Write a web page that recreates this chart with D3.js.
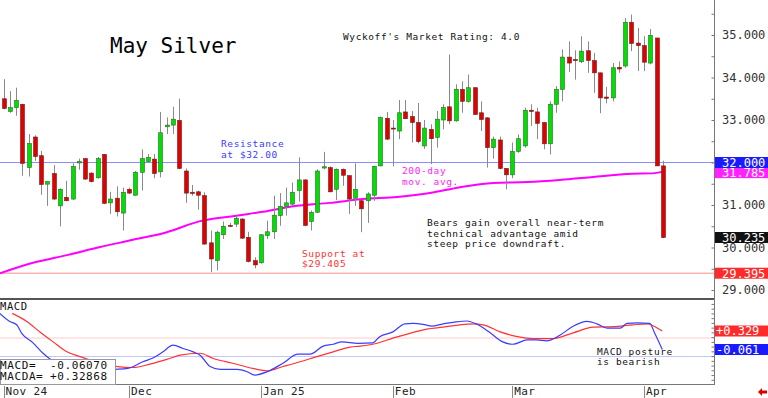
<!DOCTYPE html>
<html>
<head>
<meta charset="utf-8">
<script src="https://cdn.jsdelivr.net/npm/d3@7"></script>
<style>
  body { margin: 0; background: #fff; }
  svg { display: block; }
  text { font-family: "DejaVu Sans Mono", "Liberation Mono", monospace; }
</style>
</head>
<body>
<div id="chart"></div>
<script>
// daily candles, Nov 1 2024 .. Apr 4 2025 (trading day index = position)
const opens = [33.50,33.20,33.29,33.37,31.88,32.60,32.16,31.49,31.74,30.98,31.18,31.14,31.99,32.09,31.75,31.64,32.19,31.05,31.16,30.81,
  31.37,31.23,31.77,32.02,32.08,31.78,32.84,32.88,32.99,31.80,31.30,31.31,31.22,30.11,29.69,30.30,30.52,30.55,30.67,30.24,29.69,
  29.64,30.28,30.37,30.75,30.97,31.02,31.34,31.59,30.61,30.83,31.87,31.88,31.37,31.84,31.69,31.16,31.10,31.10,31.23,31.92,33.04,
  32.81,32.74,33.19,33.08,32.94,32.39,32.78,32.59,33.00,33.31,32.98,33.72,33.44,33.76,33.17,33.05,32.35,32.53,31.86,
  31.71,32.26,32.39,33.23,33.19,32.94,32.44,33.37,33.72,34.48,34.42,34.37,34.63,34.40,34.11,33.54,33.52,34.24,34.27,35.30,34.81,
  34.75,34.34,34.93,31.92];
const highs = [33.96,33.68,33.76,33.38,32.67,32.64,32.27,31.56,31.94,31.39,31.57,31.98,32.09,32.11,31.77,32.13,32.20,31.31,31.44,31.41,
  31.41,31.80,32.31,32.20,32.20,33.19,33.06,33.31,33.50,31.86,31.47,31.34,31.30,30.40,30.40,30.61,30.58,30.75,30.69,30.37,29.77,
  30.31,30.63,31.22,31.28,31.41,31.53,32.12,31.61,30.87,31.84,32.25,31.91,31.86,31.86,31.70,31.98,31.12,31.30,31.92,33.08,33.19,
  33.00,33.47,33.47,33.21,33.40,33.00,32.90,33.21,33.37,34.54,33.84,33.91,34.07,33.77,33.44,33.07,32.61,32.61,31.87,
  32.47,32.66,33.29,33.37,33.29,32.95,33.44,33.80,34.66,34.85,34.64,34.97,34.85,34.58,34.11,33.78,34.34,34.38,35.40,35.48,35.17,
  34.97,35.14,34.93,32.04];
const lows = [33.25,33.17,33.10,31.69,31.67,32.04,31.24,30.98,31.12,30.50,31.09,31.12,31.83,31.59,31.53,31.62,31.02,30.79,30.73,30.40,
  31.26,31.22,31.34,32.00,31.63,31.65,32.67,32.67,31.84,31.05,31.22,30.89,30.07,29.42,29.46,30.20,30.48,30.48,30.20,29.65,29.51,
  29.62,30.20,30.20,30.51,30.75,30.98,31.08,30.50,30.40,30.81,31.84,31.30,31.12,31.45,30.79,30.98,30.36,30.58,31.10,31.91,32.53,
  31.91,32.55,33.02,32.47,32.45,32.32,31.96,32.35,32.78,32.90,32.96,33.17,33.41,33.12,32.74,31.88,32.09,31.84,31.37,
  31.63,32.23,32.35,32.86,32.55,32.31,32.19,33.17,33.44,34.13,33.95,34.34,34.11,33.64,33.16,33.39,33.44,34.11,34.23,34.62,34.15,
  34.15,34.31,31.92,30.22];
const closes = [33.27,33.29,33.46,31.98,32.45,32.14,31.48,31.55,31.14,31.37,31.10,31.91,32.02,31.61,31.55,32.09,31.04,31.14,30.84,31.30,
  31.28,31.77,32.09,32.12,31.74,32.70,32.88,33.02,31.86,31.28,31.27,31.23,30.08,29.73,30.36,30.50,30.51,30.69,30.22,29.67,29.59,
  30.30,30.37,30.76,30.97,31.05,31.30,31.59,30.52,30.83,31.80,31.90,31.31,31.84,31.70,31.14,31.37,30.91,31.26,31.91,33.06,32.55,
  32.79,33.17,33.03,32.94,32.49,32.81,32.56,33.02,33.29,32.98,33.72,33.44,33.76,33.13,33.01,32.35,32.55,31.86,31.71,
  32.26,32.56,33.23,33.20,32.92,32.44,33.37,33.72,34.48,34.34,34.40,34.62,34.40,34.11,33.52,33.51,34.23,34.20,35.30,34.80,34.75,
  34.36,34.99,31.92,30.235];

// 200-day moving average, read at trading-day positions
const maIdx = [-0.6,4.7,10.1,15.4,20.6,26,31.3,37.7,41.3,46.7,52,57.2,62.7,67.9,72.7,78,83.4,88.6,93.9,99.3,103.7,105];
const maVals = [29.39,29.64,29.82,30.01,30.18,30.36,30.62,30.76,30.84,30.98,31.05,31.14,31.19,31.28,31.42,31.52,31.54,31.59,31.66,31.73,31.75,31.785];

// MACD (blue) and MACDA signal (red)
const macdIdx = [-0.6,1.0,2.1,2.9,4.7,6.3,7.4,10.6,13.8,16.2,17.8,19.8,22.2,23.8,25.4,27,28.6,30.2,31.3,32.9,34.5,37.2,38.8,40,42,44.5,46.9,48.8,50.9,52.5,
  53.9,56.4,58.8,59.9,62,63.9,65.2,66.8,68.2,70,71.6,73.8,75.4,77.5,79.5,81.1,83.4,84.9,86.5,88.6,90.7,92.9,94.5,96.1,98.2,99.3,100.9,102.9,103.7,104.9];
const macdVals = [0.70,0.53,0.46,0.28,0.08,-0.14,-0.26,-0.45,-0.54,-0.49,-0.48,-0.46,-0.32,-0.24,-0.11,0.03,-0.04,-0.11,-0.18,-0.42,-0.48,-0.48,-0.53,-0.60,-0.53,-0.35,-0.16,-0.16,0.01,0.05,
  0.10,0.07,0.08,0.21,0.31,0.48,0.49,0.47,0.43,0.48,0.51,0.54,0.47,0.29,0.10,0.05,0.14,0.14,0.12,0.24,0.43,0.53,0.48,0.39,0.39,0.49,0.50,0.49,0.28,-0.061];
const sigIdx = [1.4,3.7,5.8,7.9,10.1,12.2,14.3,16.5,18.1,20.6,23.3,26,28.1,31.3,33.4,36.5,39.7,42,44.5,47.2,49.9,52.5,55.2,56.8,59.5,62,64.7,67.4,70,72.7,
  74.8,76.4,79.1,81.8,84.3,87.5,90.7,93.9,97.1,100.2,102.6,103.4,104.9];
const sigVals = [0.70,0.53,0.31,0.10,-0.11,-0.21,-0.30,-0.39,-0.42,-0.44,-0.37,-0.27,-0.18,-0.14,-0.25,-0.35,-0.46,-0.51,-0.42,-0.32,-0.21,-0.11,-0.01,0.01,0.07,0.18,0.28,0.37,0.41,0.46,
  0.48,0.46,0.31,0.21,0.17,0.17,0.29,0.41,0.42,0.46,0.48,0.44,0.329];

const monthLabels = ["Nov 24", "Dec", "Jan 25", "Feb", "Mar", "Apr"];
const monthIdx = [0, 20, 41, 62, 81, 102];
const priceTicks = [29, 30, 31, 33, 34, 35];
const resistance = 32.00;
const support = 29.395;
const lastClose = 30.235;
const lastMa = 31.785;
const lastMacd = -0.061;
const lastMacda = 0.329;

const width = 768;
const height = 398;
const axisX = 714;

const svg = d3.select("#chart")
  .append("svg")
  .attr("width", width)
  .attr("height", height)
  .style("background", "#fff");

const x = d3.scaleLinear().domain([0, 105]).range([3.5, 662.9]);
const y = d3.scaleLinear().domain([29, 35]).range([290, 35]);
const ym = d3.scaleLinear().domain([-0.061, 0.329]).range([349.5, 331]);

// horizontal levels
svg.append("line")
  .attr("x1", 0).attr("x2", axisX)
  .attr("y1", y(resistance)).attr("y2", y(resistance))
  .attr("stroke", "#8c8cff").attr("stroke-width", 1);
svg.append("line")
  .attr("x1", 0).attr("x2", axisX)
  .attr("y1", y(support)).attr("y2", y(support))
  .attr("stroke", "#ff8c8c").attr("stroke-width", 1);

// moving average
const maLine = d3.line()
  .x((d, i) => x(maIdx[i]))
  .y(d => y(d))
  .curve(d3.curveMonotoneX);
svg.append("path")
  .datum(maVals)
  .attr("d", maLine)
  .attr("fill", "none")
  .attr("stroke", "#ff00ff")
  .attr("stroke-width", 2);

// candles
const candles = svg.append("g");
candles.selectAll(".wick")
  .data(opens)
  .enter()
  .append("line")
  .attr("class", "wick")
  .attr("x1", (d, i) => Math.round(x(i)) + 0.5)
  .attr("x2", (d, i) => Math.round(x(i)) + 0.5)
  .attr("y1", (d, i) => y(highs[i]))
  .attr("y2", (d, i) => y(lows[i]))
  .attr("stroke", "#8a8a8a")
  .attr("stroke-width", 1);

candles.selectAll(".body")
  .data(opens)
  .enter()
  .append("rect")
  .attr("class", "body")
  .attr("x", (d, i) => Math.round(x(i)) - 1.5)
  .attr("width", 4)
  .attr("y", (d, i) => y(Math.max(d, closes[i])))
  .attr("height", (d, i) => Math.max(1, Math.abs(y(d) - y(closes[i]))))
  .attr("fill", (d, i) => closes[i] >= d ? "#00e000" : "#e00000")
  .attr("stroke", (d, i) => closes[i] >= d ? "#2a6a2a" : "#6a2020")
  .attr("stroke-width", 0.6);

// MACD panel
svg.append("line")
  .attr("x1", 0).attr("x2", axisX)
  .attr("y1", ym(lastMacda) + 7).attr("y2", ym(lastMacda) + 7)
  .attr("stroke", "#ffcaca").attr("stroke-width", 1);
svg.append("line")
  .attr("x1", 0).attr("x2", axisX)
  .attr("y1", ym(lastMacd) + 7).attr("y2", ym(lastMacd) + 7)
  .attr("stroke", "#c4c4ff").attr("stroke-width", 1);

svg.append("path")
  .datum(sigVals)
  .attr("d", d3.line().x((d, i) => x(sigIdx[i])).y(d => ym(d)).curve(d3.curveMonotoneX))
  .attr("fill", "none")
  .attr("stroke", "#ff3333")
  .attr("stroke-width", 1.2);
svg.append("path")
  .datum(macdVals)
  .attr("d", d3.line().x((d, i) => x(macdIdx[i])).y(d => ym(d)).curve(d3.curveMonotoneX))
  .attr("fill", "none")
  .attr("stroke", "#3c3cff")
  .attr("stroke-width", 1.2);

// frame lines
svg.append("line")
  .attr("x1", 0).attr("x2", axisX)
  .attr("y1", 299).attr("y2", 299)
  .attr("stroke", "#555").attr("stroke-width", 2);
svg.append("line")
  .attr("x1", 0).attr("x2", axisX)
  .attr("y1", 384.5).attr("y2", 384.5)
  .attr("stroke", "#777").attr("stroke-width", 1);
svg.append("line")
  .attr("x1", axisX + 0.5).attr("x2", axisX + 0.5)
  .attr("y1", 0).attr("y2", 385)
  .attr("stroke", "#777").attr("stroke-width", 1);

// right axis ticks and labels
const priceAxis = d3.axisRight(y)
  .tickValues(d3.range(29, 35.51, 0.5))
  .tickSize(-3)
  .tickFormat("");
svg.append("g")
  .attr("transform", `translate(${axisX + 0.5},0)`)
  .call(priceAxis)
  .call(g => g.select(".domain").remove())
  .call(g => g.selectAll("line").attr("stroke", "#777"));

const macdAxis = d3.axisRight(ym)
  .tickValues(d3.range(-0.7, 1.05, 0.1))
  .tickSize(-3)
  .tickFormat("");
svg.append("g")
  .attr("transform", `translate(${axisX + 0.5},0)`)
  .call(macdAxis)
  .call(g => g.select(".domain").remove())
  .call(g => g.selectAll(".tick").filter(d => ym(d) < 302 || ym(d) > 383).remove())
  .call(g => g.selectAll("line").attr("stroke", "#777"));

svg.selectAll(".plabel")
  .data(priceTicks)
  .enter()
  .append("text")
  .attr("class", "plabel")
  .attr("x", 722)
  .attr("y", d => y(d))
  .attr("dy", "0.36em")
  .attr("font-size", "12px")
  .attr("fill", "#333")
  .text(d => d3.format(".3f")(d));

// value boxes on the axis
const boxes = [
  { v: y(lastMa) + 1, t: d3.format(".3f")(lastMa), c: "#ff22ff" },
  { v: y(resistance), t: d3.format(".3f")(resistance), c: "#1a1aff" },
  { v: y(lastClose), t: d3.format(".3f")(lastClose), c: "#111" },
  { v: y(support), t: d3.format(".3f")(support), c: "#ff2a2a" },
  { v: ym(lastMacda), t: d3.format("+.3f")(lastMacda), c: "#ff2a2a" },
  { v: ym(lastMacd), t: d3.format("+.3f")(lastMacd).replace("−", "-"), c: "#1a1aff" }
];
const bx = svg.append("g").selectAll("g")
  .data(boxes)
  .enter()
  .append("g");
bx.append("rect")
  .attr("x", axisX + 1)
  .attr("y", d => d.v - 5.5)
  .attr("width", 53)
  .attr("height", 11)
  .attr("fill", d => d.c);
bx.append("text")
  .attr("x", d => d.t[0] === "+" || d.t[0] === "-" ? 716 : 722)
  .attr("y", d => d.v)
  .attr("dy", "0.36em")
  .attr("font-size", "12px")
  .attr("fill", "#fff")
  .text(d => d.t);

// month axis
svg.selectAll(".mtick")
  .data(monthIdx)
  .enter()
  .append("line")
  .attr("class", "mtick")
  .attr("x1", d => Math.round(x(d)) + 0.5)
  .attr("x2", d => Math.round(x(d)) + 0.5)
  .attr("y1", 386)
  .attr("y2", 398)
  .attr("stroke", "#888");
svg.selectAll(".mlabel")
  .data(monthIdx)
  .enter()
  .append("text")
  .attr("class", "mlabel")
  .attr("x", d => x(d) + 2)
  .attr("y", 395)
  .attr("font-size", "11px")
  .attr("letter-spacing", "0.4px")
  .attr("fill", "#222")
  .text((d, i) => monthLabels[i]);

// red arrow bottom right
svg.append("path")
  .attr("d", "M758,392 L762,388 L762,390.5 L767,390.5 L767,393.5 L762,393.5 L762,396 Z")
  .attr("fill", "#e00000");

// texts
function note(lines, x0, y0, color, size, gap) {
  lines.forEach((t, i) => {
    svg.append("text")
      .attr("x", x0)
      .attr("y", y0 + i * gap)
      .attr("font-size", size)
      .attr("letter-spacing", "0.6px")
      .attr("fill", color)
      .attr("xml:space", "preserve")
      .style("white-space", "pre")
      .text(t);
  });
}

svg.append("text")
  .attr("x", 110).attr("y", 53)
  .attr("font-size", "21px")
  .attr("fill", "#000")
  .text("May Silver");

note(["Wyckoff's Market Rating: 4.0"], 343, 40, "#111", "9.5px", 0);
note(["Resistance", "at $32.00"], 221, 147, "#3c3cff", "9.5px", 10.5);
note(["200-day", "mov. avg."], 402, 174, "#ff22ff", "9.5px", 11);
note(["Bears gain overall near-term", "technical advantage amid", "steep price downdraft."], 427, 226, "#111", "9.5px", 10.5);
note(["Support at", "$29.405"], 302, 257, "#ff3333", "9.5px", 10);
note(["MACD posture", "is bearish"], 597, 355, "#111", "9.5px", 10);
note(["MACD"], 0, 310, "#111", "10.5px", 0);

// MACD readout box
svg.append("rect")
  .attr("x", 0.5).attr("y", 359.5)
  .attr("width", 115).attr("height", 25)
  .attr("fill", "#fff")
  .attr("stroke", "#999");
note(["MACD=", "MACDA="], 0, 369, "#111", "11px", 11);
note([d3.format("+.5f")(-0.0607).replace("−", "-"), d3.format("+.5f")(0.32868)], 50, 369, "#111", "11px", 11);
</script>
</body>
</html>
